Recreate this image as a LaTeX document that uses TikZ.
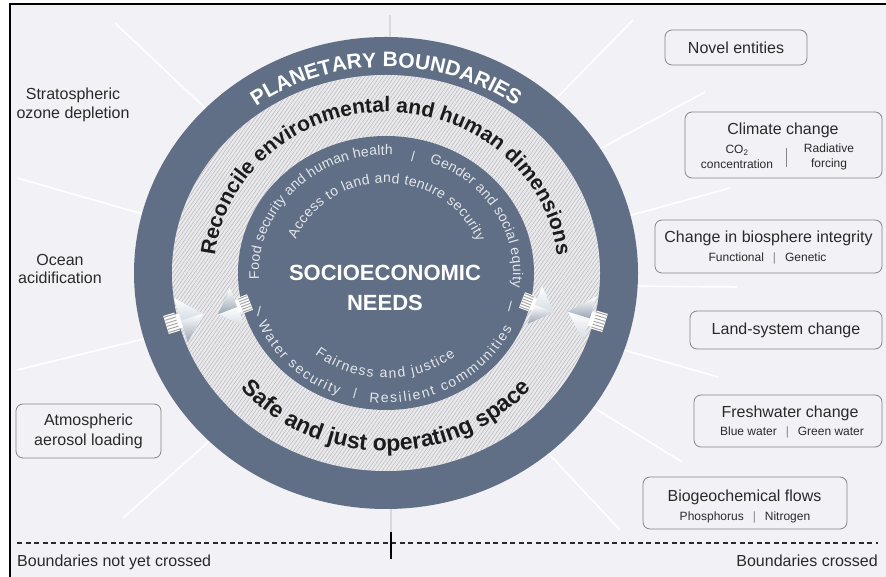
\documentclass[tikz,border=0pt]{standalone}
\usepackage{fontspec}
\setmainfont{Liberation Sans}
\usetikzlibrary{decorations.text,patterns.meta}
\definecolor{slate}{HTML}{606F85}
\definecolor{bgc}{HTML}{F2F1F5}
\definecolor{hatchbg}{HTML}{EAEAEC}
\definecolor{hatchln}{HTML}{B9B9BF}
\definecolor{boxln}{HTML}{858585}
\definecolor{txt}{HTML}{2A2A2A}
\definecolor{soft}{HTML}{E3E6EB}
\definecolor{inktxt}{HTML}{1B1B1B}
\definecolor{arrlo}{HTML}{9AA5B2}
\definecolor{arrhi}{HTML}{D5DCE4}
\newcommand\pbfont{\bfseries\fontsize{21pt}{21pt}\selectfont}
\newcommand\rgfont{\bfseries\fontsize{21pt}{21pt}\selectfont}
\newcommand\rgbfont{\bfseries\fontsize{23pt}{23pt}\selectfont}
\newcommand\infnt{\fontsize{14pt}{14pt}\selectfont}
\tikzset{
  bigarrow/.pic={
    \fill[white] (0,-9) rectangle (11,9);
    \foreach \yy in {-7.5,-4.5,-1.5,1.5,4.5,7.5} \draw[gray!70, line width=1pt] (0,\yy) -- (11,\yy);
    \fill[white] (11,-7) rectangle (16,7);
    \shade[top color=white, bottom color=arrhi] (15,0) -- (15,22) -- (37,0) -- cycle;
    \shade[top color=white, bottom color=arrlo] (15,0) -- (37,0) -- (15,-22) -- cycle;
  }
}
\begin{document}
\begin{tikzpicture}[x=1pt,y=1pt,
  lbl/.style={font=\fontsize{16pt}{19pt}\selectfont, text=txt, align=center, inner sep=0pt},
  sublbl/.style={font=\fontsize{12pt}{14.5pt}\selectfont, text=txt, align=center, inner sep=0pt},
  bnd/.style={draw=boxln, line width=0.8pt, rounded corners=7pt, fill=bgc, inner sep=0pt,
              font=\fontsize{16pt}{19pt}\selectfont, text=txt, align=center},
  ray/.style={draw=white, line width=1.6pt},
  rayg/.style={draw=gray!30, line width=1.4pt},
  slash/.style={font=\infnt, text=soft, inner sep=0pt},
  deco/.style={decorate, decoration={text along path, text align=center, text color=#1}},
  decofit/.style={decorate, decoration={text along path, text align={fit to path}, text color=#1}},
]
\useasboundingbox (0,0) rectangle (886,577);
\fill[white] (0,0) rectangle (886,577);
\fill[bgc] (10,0) rectangle (886,573);
\draw[line width=1.8pt] (10,0) -- (10,573) -- (886,573);

% rays
\coordinate (l1a) at (115,554); \coordinate (l1b) at (225,450);
\coordinate (l2a) at (17,399);  \coordinate (l2b) at (160,358);
\coordinate (l3a) at (17,207);  \coordinate (l3b) at (160,242);
\coordinate (l4a) at (123,59);  \coordinate (l4b) at (225,150);
\coordinate (r1a) at (633,557); \coordinate (r1b) at (540,462);
\coordinate (r2a) at (705,485); \coordinate (r2b) at (585,420);
\coordinate (r3a) at (730,389); \coordinate (r3b) at (610,356);
\coordinate (r4a) at (737,290); \coordinate (r4b) at (615,291);
\coordinate (r5a) at (718,200); \coordinate (r5b) at (610,231);
\coordinate (r6a) at (682,115); \coordinate (r6b) at (580,178);
\coordinate (r7a) at (620,47);  \coordinate (r7b) at (535,138);
\coordinate (vt1) at (390,562); \coordinate (vt2) at (390,530);
\coordinate (vb1) at (391,75);  \coordinate (vb2) at (391,45);
\foreach \a in {l1,l2,l3,l4,r1,r2,r3,r4,r5,r6,r7} \draw[ray] (\a a) -- (\a b);
\draw[rayg] (vt1) -- (vt2);
\draw[rayg] (vb1) -- (vb2);

% main disc
\begin{scope}[shift={(386,304)}]
  \fill[slate] (0,0) ellipse [x radius=252pt, y radius=236pt];
  \fill[hatchbg] (0,0) ellipse [x radius=214pt, y radius=198pt];
  \fill[pattern={Lines[angle=55,distance=3pt,line width=0.55pt]}, pattern color=hatchln]
       (0,0) ellipse [x radius=214pt, y radius=198pt];
  \fill[slate] (0,0) ellipse [x radius=148pt, y radius=137pt];

  \path[deco=white, decoration={text={|\pbfont|PLANETARY BOUNDARIES}}]
    (150:221pt and 206pt) arc[start angle=150, end angle=30, x radius=221pt, y radius=206pt];
  \path[deco=inktxt, decoration={text={|\rgfont|Reconcile environmental and human dimensions}}]
    (184:172pt and 161pt) arc[start angle=184, end angle=-4, x radius=172pt, y radius=161pt];
  \path[deco=inktxt, decoration={text={|\rgbfont|Safe and just operating space}}]
    (195:191pt and 178pt) arc[start angle=195, end angle=345, x radius=191pt, y radius=178pt];

  \path[decofit=soft, decoration={text={|\infnt|Food security and human health}}]
    (183:127pt and 118pt) arc[start angle=183, end angle=87, x radius=127pt, y radius=118pt];
  \path[decofit=soft, decoration={text={|\infnt|Gender and social equity}}]
    (70:127pt and 118pt) arc[start angle=70, end angle=-7, x radius=127pt, y radius=118pt];
  \path[decofit=soft, decoration={text={|\infnt|Access to land and tenure security}}]
    (158:97pt and 90pt) arc[start angle=158, end angle=20, x radius=97pt, y radius=90pt];
  \path[decofit=soft, decoration={text={|\infnt|Water security}}]
    (203:139pt and 130pt) arc[start angle=203, end angle=250, x radius=139pt, y radius=130pt];
  \path[decofit=soft, decoration={text={|\infnt|Resilient communities}}]
    (263:139pt and 130pt) arc[start angle=263, end angle=335, x radius=139pt, y radius=130pt];
  \path[decofit=soft, decoration={text={|\infnt|Fairness and justice}}]
    (231:113pt and 105pt) arc[start angle=231, end angle=308, x radius=113pt, y radius=105pt];
\end{scope}

\node[slash] (s1) at (413,420) {/};
\node[slash] (s2) at (259,265) {/};
\node[slash] (s3) at (510,270) {/};
\node[slash] (s4) at (355,183) {/};

\node[font=\bfseries\fontsize{22pt}{30pt}\selectfont, text=white, align=center, inner sep=0pt]
  (soc) at (385,289) {SOCIOECONOMIC\\NEEDS};

% arrows
\path (166,252) pic[rotate=17, scale=1.05] {bigarrow};
\path (250,275) pic[rotate=201, scale=0.92] {bigarrow};
\path (522,277) pic[rotate=-21, scale=0.92] {bigarrow};
\path (605,254) pic[rotate=163, scale=1.05] {bigarrow};

% boxes right
\node[bnd, minimum width=142pt, minimum height=35pt] (novel) at (736,529.5) {Novel entities};

\node[bnd, minimum width=197pt, minimum height=66pt] (clim) at (783.5,432) {};
\node[lbl] (climT) at (783,447) {Climate change};
\node[sublbl] (climA) at (737,420) {CO\textsubscript{2}\\concentration};
\node[sublbl] (climB) at (829,420) {Radiative\\forcing};
\draw[boxln, line width=0.6pt] (786,429) -- (786,410);

\node[bnd, minimum width=227pt, minimum height=53pt] (bio) at (768.5,330.5) {};
\node[lbl] (bioT) at (768.5,339) {Change in biosphere integrity};
\node[sublbl] (bioS) at (767.5,319) {Functional\hspace{9pt}{\color{boxln}|}\hspace{9pt}Genetic};

\node[bnd, minimum width=192pt, minimum height=38pt] (land) at (786,247) {Land-system change};

\node[bnd, minimum width=188pt, minimum height=52pt] (fw) at (788,156) {};
\node[lbl] (fwT) at (790,164) {Freshwater change};
\node[sublbl] (fwS) at (792,145) {Blue water\hspace{9pt}{\color{boxln}|}\hspace{9pt}Green water};

\node[bnd, minimum width=204pt, minimum height=52pt] (bgf) at (745,74) {};
\node[lbl] (bgfT) at (744.5,80) {Biogeochemical flows};
\node[sublbl] (bgfS) at (745,60) {Phosphorus\hspace{9pt}{\color{boxln}|}\hspace{9pt}Nitrogen};

% left labels
\node[lbl] (strat) at (73,472.5) {Stratospheric\\ozone depletion};
\node[lbl] (ocean) at (60,308) {Ocean\\acidification};
\node[bnd, minimum width=145pt, minimum height=54pt, font=\fontsize{16pt}{20pt}\selectfont] (aer) at (88.5,146) {Atmospheric\\aerosol loading};

% bottom
\coordinate (dl) at (17,34); \coordinate (dr) at (878,34);
\draw[txt, line width=1.1pt, dash pattern=on 5pt off 3.5pt] (dl) -- (dr);
\coordinate (tk1) at (391,45); \coordinate (tk2) at (391,18);
\draw[black, line width=2.2pt] (tk1) -- (tk2);
\node[lbl, anchor=base west] (nyc) at (17,10) {Boundaries not yet crossed};
\node[lbl, anchor=base east] (bcr) at (878,10) {Boundaries crossed};
\end{tikzpicture}
\end{document}
